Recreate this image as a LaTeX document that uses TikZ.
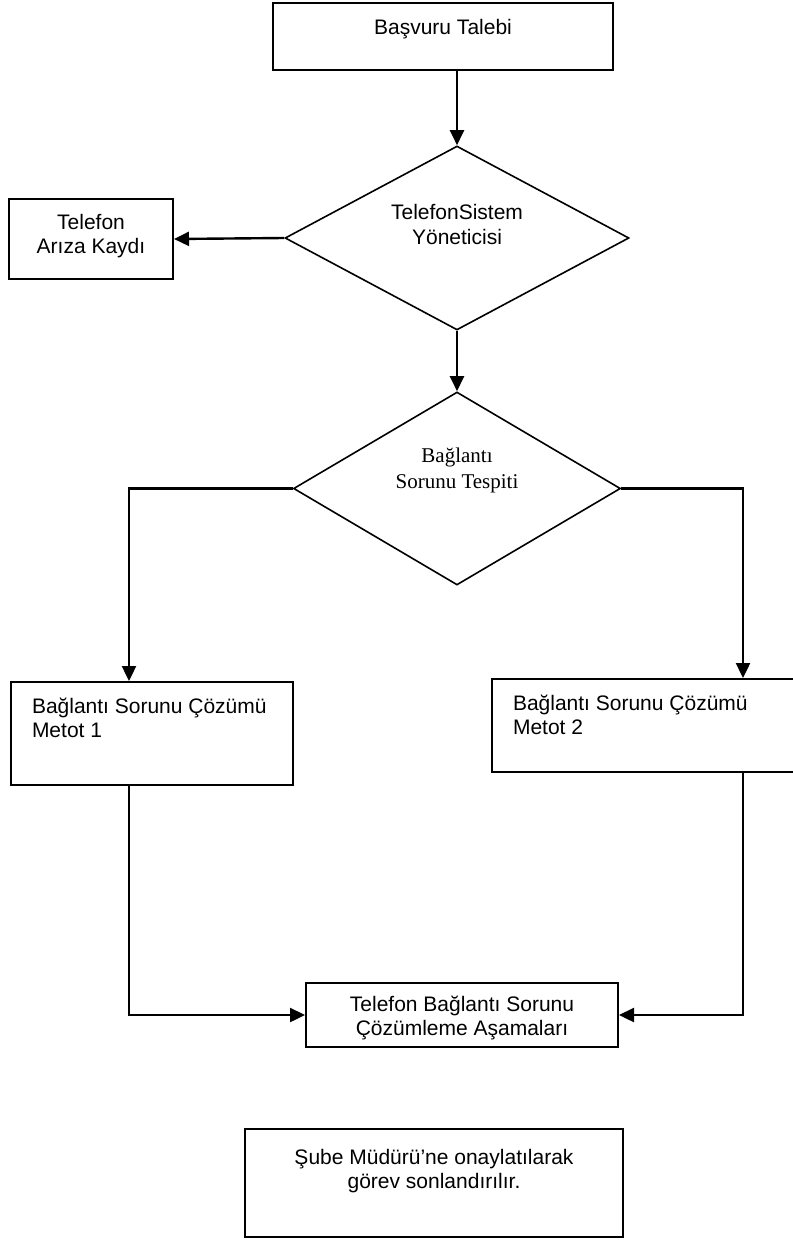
\documentclass[tikz,border=0pt]{standalone}
\usepackage{fontspec}
\setmainfont{Liberation Sans}
\newfontfamily\timesyazi{Liberation Serif}
\usetikzlibrary{shapes.geometric,arrows.meta}

\begin{document}
\begin{tikzpicture}[x=0.5pt,y=-0.5pt,
   kutu/.style={draw,line width=1pt,inner sep=0pt,anchor=north west,font=\fontsize{10.5}{12}\selectfont},
   karar/.style={draw,diamond,line width=0.8pt,inner sep=0pt},
   yazi/.style={align=center,font=\fontsize{10.5}{12.5}\selectfont},
   ok/.style={line width=1.2pt,-{Triangle[length=7.5pt,width=7pt]}}]
   \useasboundingbox (0,0) rectangle (792,1241);
   \node[kutu] (talep) at (272,2) {\parbox[c][33.5pt][t]{170pt}{\centering\rule{0pt}{15.75pt}Başvuru Talebi}};
   \node[karar,minimum width=172pt,minimum height=92pt,
         label={[yazi,yshift=6.75pt]center:{TelefonSistem\\Yöneticisi}}] (karar1) at (457,238) {};
   \node[kutu] (ariza) at (8,198) {\parbox[c][40pt][t]{82pt}{\centering\rule{0pt}{15.5pt}Telefon\\Arıza Kaydı}};
   \node[karar,minimum width=163.5pt,minimum height=96.5pt,
         label={[yazi,font=\timesyazi\fontsize{10.5}{13}\selectfont,yshift=9pt]center:{Bağlantı\\Sorunu Tespiti}}] (karar2) at (457,488.5) {};
   \coordinate (sol) at (129,0);
   \coordinate (sag) at (743,0);
   \node[kutu] (cozum1) at (10,681) {\hspace{10.5pt}\parbox[c][51.5pt][t]{130.5pt}{\raggedright\rule{0pt}{15.75pt}Bağlantı Sorunu Çözümü\\Metot 1}};
   \node[kutu] (cozum2) at (491,678) {\hspace{10.5pt}\parbox[c][46.5pt][t]{144pt}{\raggedright\rule{0pt}{15.75pt}Bağlantı Sorunu Çözümü\\Metot 2}};
   \node[kutu] (asamalar) at (305,982) {\parbox[c][32pt][t]{156pt}{\centering\rule{0pt}{14pt}Telefon Bağlantı Sorunu\\Çözümleme Aşamaları}};
   \node[kutu] (onay) at (244,1128) {\parbox[c][54pt][t]{189pt}{\centering\rule{0pt}{17.5pt}Şube Müdürü’ne onaylatılarak\\görev sonlandırılır.}};

   \draw[ok] (talep.south -| karar1.north) -- (karar1.north);
   \draw[ok] (karar1.west) -- (ariza.east);
   \draw[ok] (karar1.south) -- (karar2.north);
   \draw[ok] (karar2.west) -| (sol |- cozum1.north);
   \draw[ok] (karar2.east) -| (sag |- cozum2.north);
   \draw[ok] (sol |- cozum1.south) |- (asamalar.west);
   \draw[ok] (sag |- cozum2.south) |- (asamalar.east);
\end{tikzpicture}
\end{document}
